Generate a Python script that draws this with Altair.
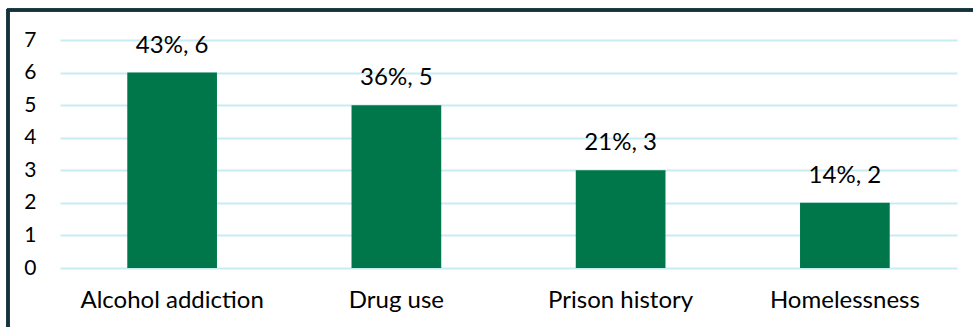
import altair as alt
import pandas as pd

categories = ["Alcohol addiction", "Drug use", "Prison history", "Homelessness"]
counts = [6, 5, 3, 2]
percents = ["43%", "36%", "21%", "14%"]

df = pd.DataFrame({
    "cat": categories,
    "n": counts,
    "label": [f"{p}, {c}" for p, c in zip(percents, counts)],
})

FONT = "Lato"
GREEN = "#00774a"

x = alt.X("cat:N", sort=categories, title=None,
          scale=alt.Scale(paddingInner=0.6, paddingOuter=0.3),
          axis=alt.Axis(labelAngle=0, domain=False, ticks=False, labelPadding=20,
                        labelLimit=400, labelFontSize=24, labelColor="#000", labelFont=FONT))
y = alt.Y("n:Q", title=None, scale=alt.Scale(domain=[0, 7]),
          axis=alt.Axis(values=list(range(8)), tickCount=8, labelOverlap=False,
                        domain=False, ticks=False, labelPadding=24,
                        labelFontSize=21, labelColor="#000", labelFont=FONT,
                        grid=True, gridColor="#c8ecf3", gridWidth=2))

bars = alt.Chart(df).mark_bar(color=GREEN).encode(x=x, y=y)
text = alt.Chart(df).mark_text(dy=-27, baseline="middle", fontSize=24, font=FONT, color="#000").encode(
    x=x, y=y, text="label:N")

frame_top = alt.Chart(df).mark_rule(color="#13323c", strokeWidth=3).encode(
    x=alt.value(-53), x2=alt.value(960), y=alt.value(-30))
frame_left = alt.Chart(df).mark_rule(color="#13323c", strokeWidth=3).encode(
    x=alt.value(-52), y=alt.value(-31), y2=alt.value(300))

chart = alt.layer(bars, text, frame_top, frame_left).properties(
    width=897, height=228,
    autosize=alt.AutoSizeParams(type="none"),
    padding={"left": 60, "top": 40, "right": 16, "bottom": 59},
    background="white",
).configure_view(stroke=None)

chart.save("out.html", embed_options={"renderer": "svg", "actions": False})
